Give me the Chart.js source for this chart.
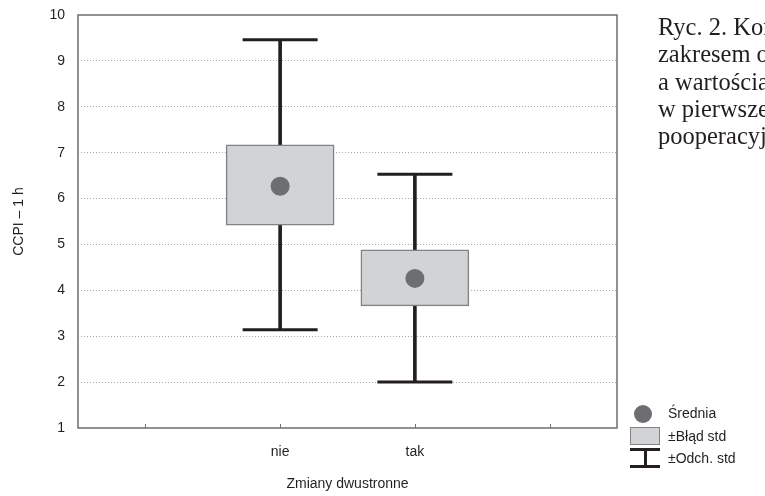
<!DOCTYPE html>
<html>
<head>
<meta charset="utf-8">
<script src="https://cdn.jsdelivr.net/npm/chart.js@4/dist/chart.umd.min.js"></script>
<style>
  html, body { margin: 0; padding: 0; background: #fff; overflow: hidden; }
  #wrap { position: relative; width: 765px; height: 496px; }
  #caption { position: absolute; left: 658px; top: 13px; width: 300px; font-family: "Liberation Serif", "DejaVu Serif", serif; font-size: 24.5px; line-height: 27.3px; color: #231f20; white-space: nowrap; }
  .leg { position: absolute; font-family: "Liberation Sans", Arial, sans-serif; font-size: 14px; color: #231f20; }
  .sym { position: absolute; }
</style>
</head>
<body>
<div id="wrap">
  <canvas id="chart" width="765" height="496"></canvas>
  <div id="caption">Ryc. 2. Korelacja<br>zakresem operacji<br>a wartościami<br>w pierwszej dobie<br>pooperacyjnej</div>
  <div class="sym" style="left:634px;top:405px;width:18px;height:18px;border-radius:50%;background:#6d6e71;"></div>
  <div class="leg" style="left:668px;top:405px;">Średnia</div>
  <div class="sym" style="left:630px;top:427px;width:28px;height:16px;background:#d1d3d4;border:1px solid #808285;"></div>
  <div class="leg" style="left:668px;top:428px;">±Błąd std</div>
  <div class="sym" style="left:630px;top:448px;width:30px;height:3px;background:#231f20;"></div>
  <div class="sym" style="left:644px;top:448px;width:3px;height:20px;background:#231f20;"></div>
  <div class="sym" style="left:630px;top:465px;width:30px;height:3px;background:#231f20;"></div>
  <div class="leg" style="left:668px;top:450px;">±Odch. std</div>
</div>
<script>
const categories = ['', 'nie', 'tak', ''];
const means = [null, 6.27, 4.26, null];
const seLow = [null, 5.42, 3.66, null];
const seHigh = [null, 7.17, 4.88, null];
const sdLow = [null, 3.14, 2.0, null];
const sdHigh = [null, 9.46, 6.53, null];
const yTicks = [1, 2, 3, 4, 5, 6, 7, 8, 9, 10];

const ink = '#231f20';

function pairs(lo, hi) {
    return lo.map((v, i) => v === null ? null : [v, hi[i]]);
}

const framePlugin = {
    id: 'frame',
    afterDraw(chart) {
        const { ctx, chartArea: a, scales } = chart;
        ctx.save();
        ctx.strokeStyle = '#6d6e71';
        ctx.lineWidth = 1.5;
        ctx.strokeRect(a.left, a.top, a.right - a.left, a.bottom - a.top);
        // small inner tick marks on the x axis
        ctx.lineWidth = 1;
        categories.forEach((c, i) => {
            const x = Math.round(scales.x.getPixelForValue(i)) + 0.5;
            ctx.beginPath();
            ctx.moveTo(x, a.bottom);
            ctx.lineTo(x, a.bottom - 4);
            ctx.stroke();
        });
        ctx.restore();
    }
};

const ctx = document.getElementById('chart').getContext('2d');
new Chart(ctx, {
    type: 'bar',
    data: {
        labels: categories,
        datasets: [
            {
                type: 'line',
                label: 'Średnia',
                data: means,
                showLine: false,
                pointRadius: 9.5,
                pointBackgroundColor: '#6d6e71',
                pointBorderWidth: 0,
                order: 0
            },
            {
                label: '±Błąd std',
                data: pairs(seLow, seHigh),
                backgroundColor: '#d1d3d4',
                borderColor: '#808285',
                borderWidth: 1.5,
                borderSkipped: false,
                barThickness: 108,
                grouped: false,
                order: 1
            },
            {
                label: '±Odch. std',
                data: pairs(sdLow, sdHigh),
                backgroundColor: ink,
                borderWidth: 0,
                barThickness: 3,
                grouped: false,
                order: 2
            },
            {
                type: 'line',
                label: 'sd upper',
                data: sdHigh,
                showLine: false,
                pointStyle: 'line',
                pointRadius: 37.5,
                pointBorderColor: ink,
                pointBorderWidth: 3,
                order: 2
            },
            {
                type: 'line',
                label: 'sd lower',
                data: sdLow,
                showLine: false,
                pointStyle: 'line',
                pointRadius: 37.5,
                pointBorderColor: ink,
                pointBorderWidth: 3,
                order: 2
            }
        ]
    },
    options: {
        responsive: false,
        animation: false,
        layout: { autoPadding: false, padding: { top: 15, right: 148, left: 0, bottom: 0 } },
        plugins: {
            legend: { display: false },
            tooltip: { enabled: false }
        },
        scales: {
            x: {
                offset: true,
                grid: { display: false },
                border: { display: false },
                ticks: { color: ink, font: { family: 'Liberation Sans', size: 14 }, padding: 8 },
                title: {
                    display: true,
                    text: 'Zmiany dwustronne',
                    color: ink,
                    font: { family: 'Liberation Sans', size: 14 },
                    padding: { top: 0, bottom: 3 }
                },
                afterFit(scale) { scale.height = 68; }
            },
            y: {
                min: 1,
                max: 10,
                afterBuildTicks(scale) { scale.ticks = yTicks.map(v => ({ value: v })); },
                grid: {
                    color: c => (c.tick && c.tick.value > 1 && c.tick.value < 10) ? '#a7a9ac' : 'rgba(0,0,0,0)',
                    lineWidth: 1,
                    drawTicks: false
                },
                border: { display: false, dash: [1, 2] },
                ticks: { color: ink, font: { family: 'Liberation Sans', size: 14 }, padding: 13 },
                title: {
                    display: true,
                    text: 'CCPI – 1 h',
                    color: ink,
                    font: { family: 'Liberation Sans', size: 14 },
                    padding: { top: 11, bottom: 0 }
                },
                afterFit(scale) {
                    scale.width = 78;
                    scale.paddingTop = 0;
                    scale.paddingBottom = 0;
                }
            }
        }
    },
    plugins: [framePlugin]
});
</script>
</body>
</html>
